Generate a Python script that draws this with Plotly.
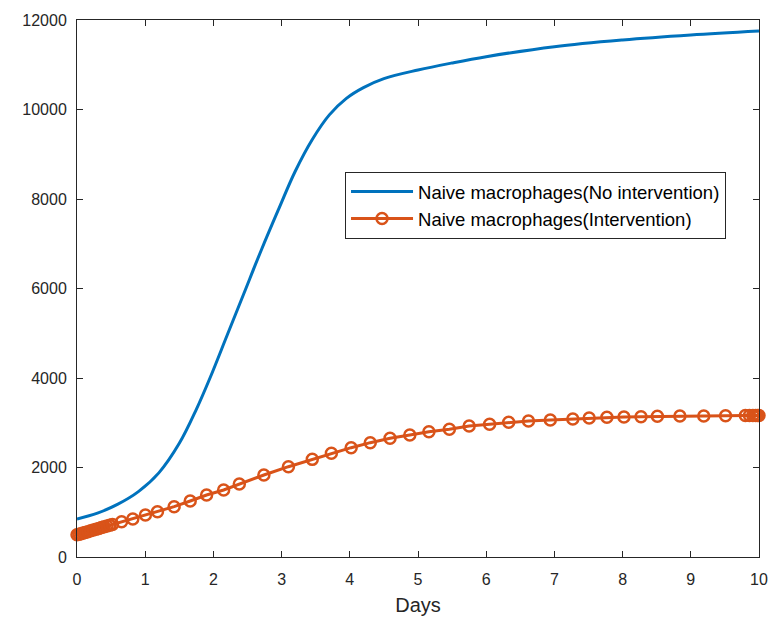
import plotly.graph_objects as go

# No intervention (smooth curve)
t_no = [0.0, 0.3, 0.6, 0.9, 1.2, 1.5, 1.75, 1.95, 2.2, 2.45, 2.7, 2.95, 3.2, 3.45, 3.7, 3.95,
        4.2, 4.5, 5.0, 5.5, 6.0, 7.0, 8.0, 9.0, 10.0]
y_no = [849, 980, 1180, 1460, 1880, 2540, 3300, 4000, 4950, 5900, 6850, 7750, 8620, 9330, 9880, 10250,
        10490, 10690, 10883, 11040, 11180, 11404, 11553, 11665, 11754]

# Intervention (marker points)
t_int = [0.0, 0.03, 0.06, 0.09, 0.12, 0.16, 0.20, 0.24, 0.28, 0.32, 0.36, 0.40, 0.44, 0.48, 0.52,
         0.654, 0.818, 1.003, 1.18, 1.424, 1.66, 1.90, 2.15, 2.38, 2.74, 3.10, 3.45, 3.73, 4.02,
         4.30, 4.59, 4.88, 5.16, 5.46, 5.75, 6.05, 6.33, 6.62, 6.94, 7.27, 7.51, 7.77, 8.02, 8.27,
         8.51, 8.84, 9.19, 9.51, 9.80, 9.86, 9.91, 9.95, 9.98, 10.0]
y_int = [495, 508, 522, 535, 549, 567, 585, 603, 621, 639, 657, 675, 693, 711, 729,
         790, 849, 939, 1013, 1125, 1251, 1385, 1497, 1631, 1832, 2018, 2182, 2317, 2443,
         2555, 2652, 2726, 2801, 2853, 2927, 2965, 3009, 3039, 3061, 3084, 3106, 3121, 3128, 3136,
         3143, 3150, 3152, 3158, 3160, 3161, 3161, 3162, 3162, 3162]

x_ticks = [0, 1, 2, 3, 4, 5, 6, 7, 8, 9, 10]
y_ticks = [0, 2000, 4000, 6000, 8000, 10000, 12000]

BLUE = "#0072BD"
ORANGE = "#D95319"
AX = "#262626"
FONT = "Liberation Sans, Arial"

fig = go.Figure()
fig.add_trace(go.Scatter(x=t_no, y=y_no, mode="lines",
                         line=dict(color=BLUE, width=3, shape="spline", smoothing=1.0),
                         name="Naive macrophages(No intervention)"))
fig.add_trace(go.Scatter(x=t_int, y=y_int, mode="lines+markers", line=dict(color=ORANGE, width=3),
                         marker=dict(symbol="circle-open", size=11, color=ORANGE,
                                     line=dict(width=2.5, color=ORANGE)),
                         name="Naive macrophages(Intervention)", cliponaxis=False))

axis_common = dict(showgrid=False, zeroline=False, showline=True, linecolor=AX, linewidth=1,
                   mirror="ticks", ticks="inside", ticklen=6, tickcolor=AX, tickwidth=1,
                   automargin=False,
                   tickfont=dict(family=FONT, size=16, color=AX))
fig.update_xaxes(range=[0, 10], tickvals=x_ticks, ticktext=[str(v) for v in x_ticks],
                 ticklabelstandoff=8,
                 title=dict(text="Days", font=dict(family=FONT, size=20, color=AX), standoff=10),
                 **axis_common)
fig.update_yaxes(range=[0, 12000], tickvals=y_ticks, ticktext=[str(v) for v in y_ticks],
                 ticklabelstandoff=6, **axis_common)

fig.update_layout(
    width=772, height=625,
    margin=dict(l=77, r=13, t=20, b=68),
    paper_bgcolor="white", plot_bgcolor="white",
    showlegend=True,
    legend=dict(x=0.393, y=0.717, xanchor="left", yanchor="top",
                bgcolor="white", bordercolor=AX, borderwidth=1,
                font=dict(family=FONT, size=18.5, color="black"),
                itemwidth=62, tracegroupgap=0),
)

fig.write_html("out.html")
